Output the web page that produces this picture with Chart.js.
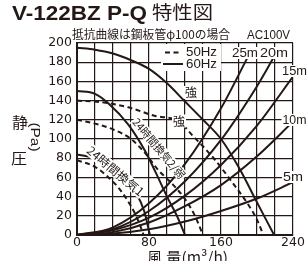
<!DOCTYPE html>
<html>
<head>
<meta charset="utf-8">
<title>V-122BZ P-Q 特性図</title>
<script src="https://cdn.jsdelivr.net/npm/chart.js"></script>
<style>
  html, body { margin: 0; padding: 0; background: #fff; }
  canvas { display: block; }
</style>
</head>
<body>
<canvas id="pq" width="308" height="261"></canvas>
<script>
// 目盛り
const xTickLabels = [0, 80, 160, 240];
const yTickLabels = [0, 20, 40, 60, 80, 100, 120, 140, 160, 180, 200];

// 強 (60Hz 実線 / 50Hz 破線)
const strong60Q = [0, 20, 40, 60, 80, 100, 120, 140, 160, 180, 200, 219];
const strong60P = [195, 193, 189, 182, 173, 158, 139, 120, 100, 70, 34, 0];
const strong50Q = [0, 30, 57, 87, 112, 130, 150, 170, 190, 200, 207];
const strong50P = [140, 138, 133, 124, 119, 102, 82, 58, 32, 16, 0];

// 24時間換気2/弱
const mid60Q = [0, 20, 35, 57, 76, 87, 100, 112, 120];
const mid60P = [150, 147, 137, 115, 87, 66, 40, 18, 0];
const mid50Q = [0, 20, 40, 60, 75, 90, 105, 118, 130, 140];
const mid50P = [120, 116, 110, 100, 86, 68, 54, 40, 22, 0];

// 24時間換気1
const low60Q = [0, 20, 40, 55, 65, 75, 81];
const low60P = [84, 80, 71, 58, 45, 24, 0];
const low50Q = [0, 20, 35, 48, 60, 68, 74];
const low50P = [78, 71, 60, 47, 30, 15, 0];

// 抵抗曲線 (鋼板管φ100)
const ductQ = [0, 40, 80, 120, 160, 200, 240];
const duct5m = [0, 1.5, 6, 14, 25, 38, 55];
const duct10m = [0, 3, 13, 30, 52, 82, 118];
const duct15m = [0, 5, 18, 41, 73, 114, 165];
const duct20Q = [0, 40, 80, 120, 160, 200, 218];
const duct20m = [0, 6, 25, 56, 99, 155, 184];
const duct25Q = [0, 40, 80, 120, 160, 189];
const duct25m = [0, 8, 33, 74, 132, 184];

const ink = '#231815';
const pts = (q, p) => q.map((x, i) => ({ x: x, y: p[i] }));
const curve = (q, p, dashed) => ({
    data: pts(q, p),
    borderColor: ink,
    borderWidth: 2,
    borderDash: dashed ? [5, 3.5] : [],
    pointRadius: 0,
    cubicInterpolationMode: 'monotone',
    fill: false
});

function put(ctx, t, cx, cy, o) {
    ctx.save();
    ctx.font = o.font;
    const m = ctx.measureText(t).width;
    const sx = o.w ? o.w / m : 1;
    ctx.translate(cx, cy);
    if (o.rot) ctx.rotate(o.rot * Math.PI / 180);
    ctx.scale(sx, 1);
    if (o.bg) {
        ctx.fillStyle = '#fff';
        ctx.fillRect(-m / 2 - o.bg / sx, -o.h / 2, m + 2 * o.bg / sx, o.h);
    }
    ctx.fillStyle = ink;
    ctx.textAlign = 'center';
    ctx.textBaseline = o.base || 'middle';
    ctx.fillText(t, 0, 0);
    ctx.restore();
}

const labels = {
    id: 'labels',
    afterDatasetsDraw(chart) {
        const ctx = chart.ctx;
        const num = "13px 'Liberation Sans'";
        const jp = "12px 'Noto Sans CJK JP'";

        // 凡例
        ctx.save();
        ctx.fillStyle = '#fff';
        ctx.fillRect(161, 44, 60, 27);
        ctx.strokeStyle = ink;
        ctx.lineWidth = 2;
        ctx.setLineDash([5, 3.5]);
        ctx.beginPath(); ctx.moveTo(165, 52.5); ctx.lineTo(182, 52.5); ctx.stroke();
        ctx.setLineDash([]);
        ctx.beginPath(); ctx.moveTo(163, 64); ctx.lineTo(183, 64); ctx.stroke();
        ctx.restore();
        put(ctx, '50Hz', 201.5, 52.5, { font: num, w: 31 });
        put(ctx, '60Hz', 201.5, 64, { font: num, w: 31 });

        // 抵抗曲線ラベル
        put(ctx, '25m', 245, 53, { font: num, w: 26, bg: 1, h: 12 });
        put(ctx, '20m', 274, 53, { font: num, w: 28, bg: 1, h: 12 });
        put(ctx, '15m', 294.5, 71, { font: num, w: 25, bg: 1, h: 12 });
        put(ctx, '10m', 294.5, 120, { font: num, w: 24, bg: 1, h: 12 });
        put(ctx, '5m', 293, 177, { font: num, w: 20, bg: 1, h: 12 });

        // 運転モード
        put(ctx, '強', 191, 92.5, { font: jp, bg: 1, h: 13 });
        put(ctx, '強', 179, 121, { font: jp, bg: 1, h: 13 });
        put(ctx, '24時間換気2/弱', 159, 148.5, { font: "11px 'Noto Sans CJK JP'", w: 75, rot: 50, bg: 1, h: 12 });
        put(ctx, '24時間換気1', 115.5, 171, { font: jp, w: 70, rot: 40, bg: 1, h: 13 });
    },
    afterDraw(chart) {
        const ctx = chart.ctx;
        put(ctx, 'V-122BZ P-Q', 79.5, 20, { font: "bold 20px 'Liberation Sans'", w: 135, base: 'alphabetic' });
        put(ctx, '特性図', 182.5, 12.5, { font: "18px 'Noto Sans CJK JP'", w: 61 });
        put(ctx, '抵抗曲線は鋼板管φ100の場合', 151, 34, { font: "12px 'Noto Sans CJK JP'", w: 158 });
        put(ctx, 'AC100V', 268.5, 38.5, { font: "12.5px 'Liberation Sans'", w: 43, base: 'alphabetic' });
        put(ctx, '静', 20, 122, { font: "15px 'Noto Sans CJK JP'", w: 16 });
        put(ctx, '圧', 19, 158, { font: "15px 'Noto Sans CJK JP'", w: 16 });
        put(ctx, '(Pa)', 35, 137, { font: "13px 'Liberation Sans'", w: 29, rot: 90 });
        put(ctx, '風 量(m³/h)', 187.5, 263, { font: "15px 'Noto Sans CJK JP'", w: 81, base: 'alphabetic' });
    }
};

new Chart(document.getElementById('pq'), {
    type: 'line',
    data: {
        datasets: [
            curve(strong60Q, strong60P, false),
            curve(strong50Q, strong50P, true),
            curve(mid60Q, mid60P, false),
            curve(mid50Q, mid50P, true),
            curve(low60Q, low60P, false),
            curve(low50Q, low50P, true),
            curve(ductQ, duct5m, false),
            curve(ductQ, duct10m, false),
            curve(ductQ, duct15m, false),
            curve(duct20Q, duct20m, false),
            curve(duct25Q, duct25m, false)
        ]
    },
    options: {
        responsive: false,
        animation: false,
        layout: { padding: { top: 43, right: 15, left: 0, bottom: 0 } },
        plugins: { legend: { display: false }, tooltip: { enabled: false } },
        scales: {
            x: {
                type: 'linear',
                min: 0,
                max: 240,
                afterFit: s => { s.height = 26; },
                ticks: {
                    stepSize: 20,
                    autoSkip: false,
                    maxRotation: 0,
                    padding: 0,
                    color: ink,
                    font: { family: 'DejaVu Sans', size: 12.5 },
                    callback: v => xTickLabels.includes(v) ? v : ''
                },
                grid: { color: ink, lineWidth: 1.2, drawTicks: false },
                border: { color: ink, width: 2 }
            },
            y: {
                min: 0,
                max: 200,
                afterFit: s => { s.width = 77; },
                ticks: {
                    stepSize: 20,
                    padding: 5,
                    color: ink,
                    font: { family: 'DejaVu Sans', size: 12.5 },
                    callback: v => yTickLabels.includes(v) ? v : ''
                },
                grid: { color: ink, lineWidth: 1.2, drawTicks: false },
                border: { color: ink, width: 2 }
            }
        }
    },
    plugins: [labels]
});
</script>
</body>
</html>
